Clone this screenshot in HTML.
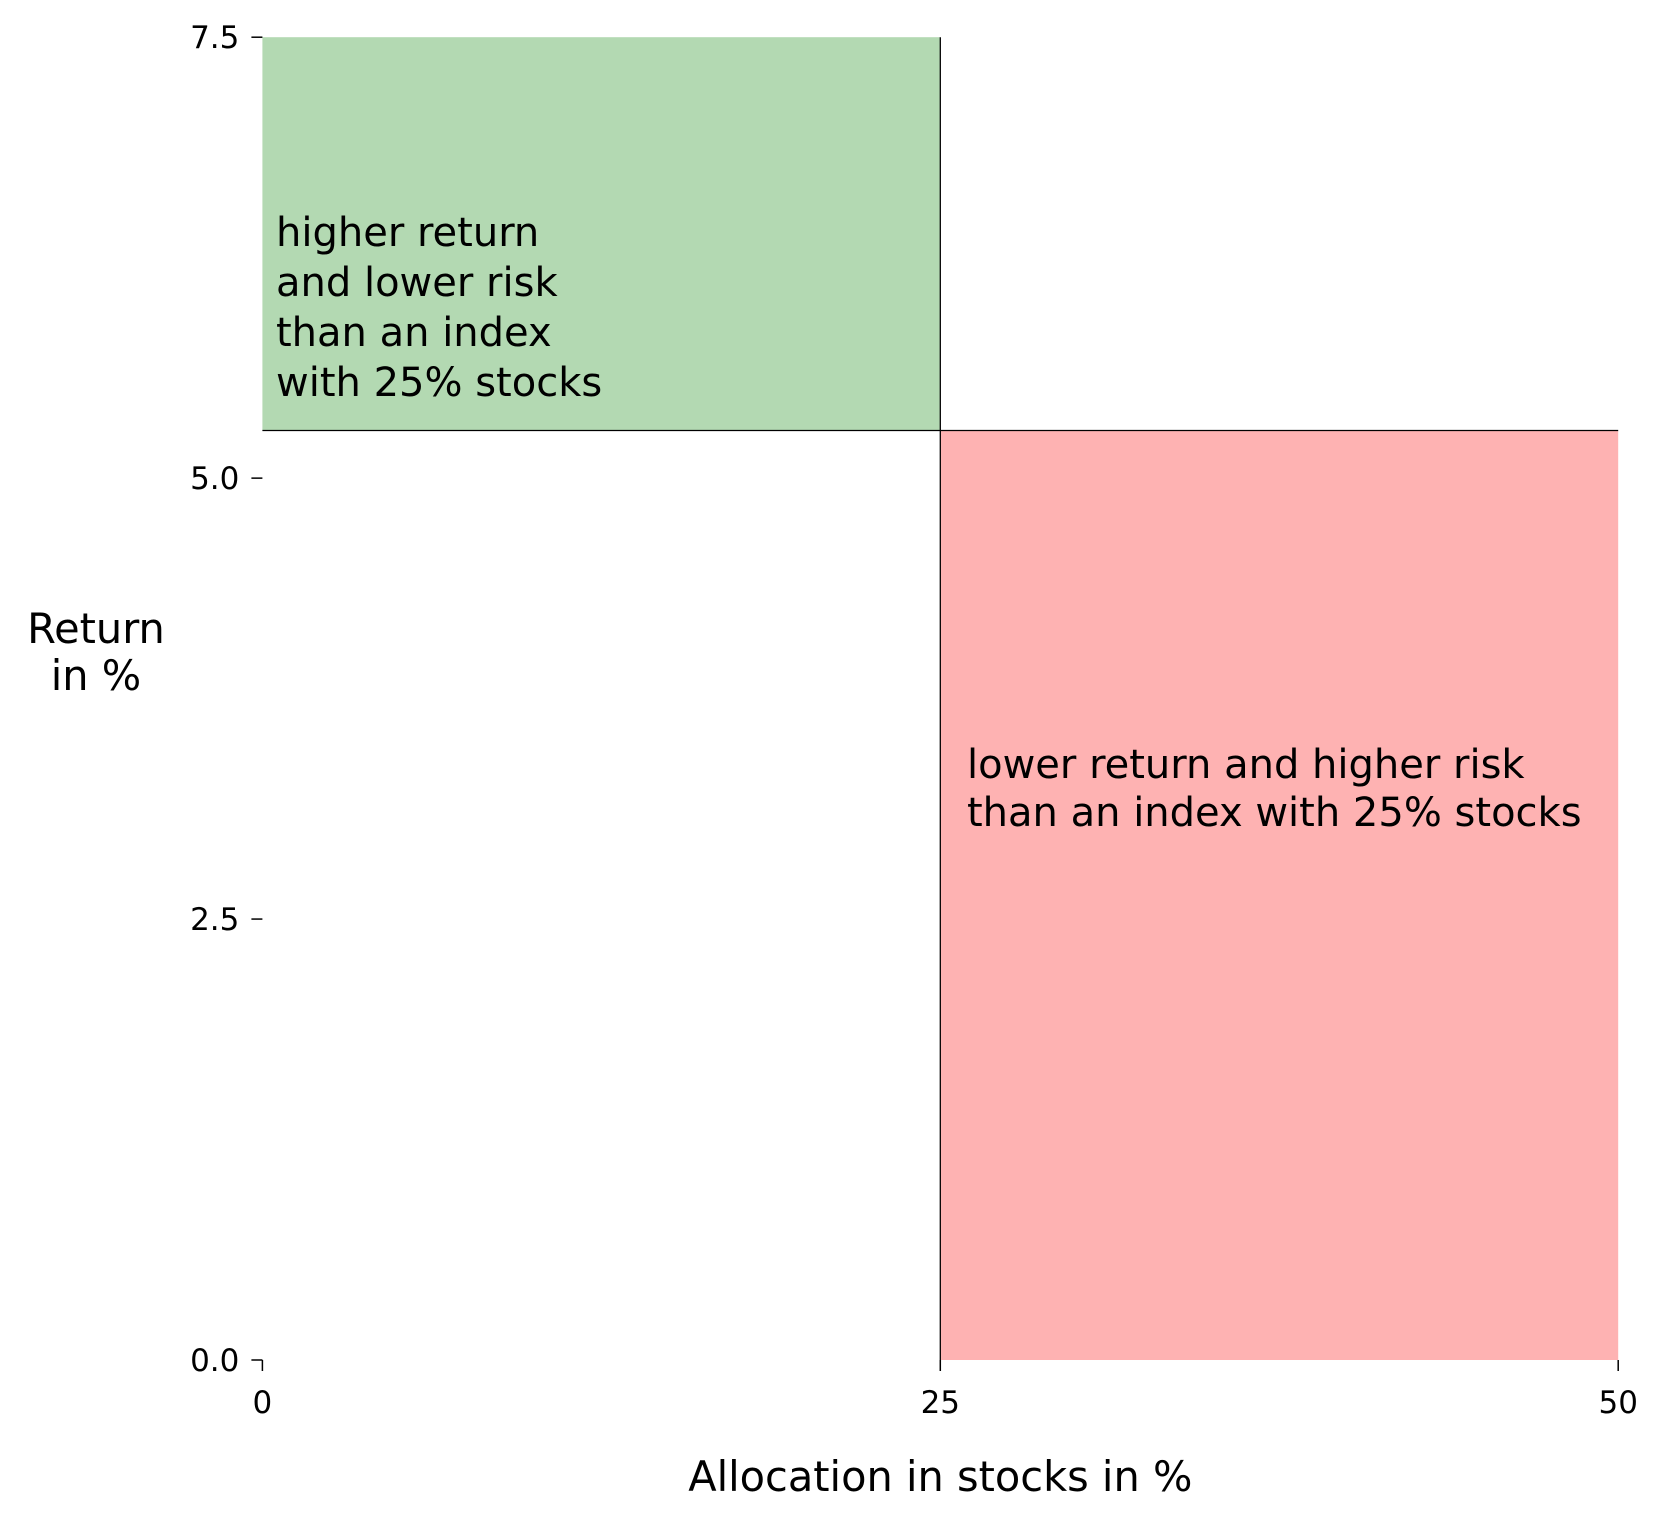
<!DOCTYPE html>
<html><head><meta charset="utf-8"><style>
html,body{margin:0;padding:0;background:#fff}
svg{display:block}
text{font-family:"DejaVu Sans","Liberation Sans",sans-serif;fill:#000}
</style></head><body>
<svg id="chart" width="1665" height="1523" viewBox="0 0 1665 1523" xmlns="http://www.w3.org/2000/svg"></svg>
<script>
const xTicks=[0,25,50];
const xTickLabels=["0","25","50"];
const yTicks=[0,2.5,5.0,7.5];
const yTickLabels=["0.0","2.5","5.0","7.5"];
const indexAllocation=[25];
const indexReturn=[5.27];
const xDomain=[0,50];
const yDomain=[0,7.5];

const L=262.4,R=1618.2,T=37.2,B=1360;
const sx=v=>L+(v-xDomain[0])/(xDomain[1]-xDomain[0])*(R-L);
const sy=v=>B-(v-yDomain[0])/(yDomain[1]-yDomain[0])*(B-T);
const svg=document.getElementById('chart');
const NS='http://www.w3.org/2000/svg';
function mk(tag,attrs){const e=document.createElementNS(NS,tag);for(const k in attrs)e.setAttribute(k,attrs[k]);svg.appendChild(e);return e;}

const ax=indexAllocation[0], ar=indexReturn[0];
let g=mk('rect',{x:sx(xDomain[0]),y:sy(yDomain[1]),width:sx(ax)-sx(xDomain[0]),height:sy(ar)-sy(yDomain[1]),fill:'#b3d9b2'});


let r=mk('rect',{x:sx(ax),y:sy(ar),width:sx(xDomain[1])-sx(ax),height:sy(yDomain[0])-sy(ar),fill:'#feb2b2'});


let vl=mk('line',{x1:sx(ax),x2:sx(ax),y1:sy(yDomain[0]),y2:sy(yDomain[1]),stroke:'#000','stroke-width':1.3});


let hl=mk('line',{x1:sx(xDomain[0]),x2:sx(xDomain[1]),y1:sy(ar),y2:sy(ar),stroke:'#000','stroke-width':1.3});



xTicks.forEach((v,i)=>{
  const t=mk('line',{x1:sx(v),x2:sx(v),y1:B,y2:B+11,stroke:'#000','stroke-width':1.5});
  
  
  const l=mk('text',{x:sx(v),y:B+53,'text-anchor':'middle','font-size':31});
  l.textContent=xTickLabels[i];
  
  
});
yTicks.forEach((v,i)=>{
  const t=mk('line',{x1:L-11,x2:L,y1:sy(v),y2:sy(v),stroke:'#000','stroke-width':1.5});
  
  
  const l=mk('text',{x:L-23,y:sy(v)+11,'text-anchor':'end','font-size':31});
  l.textContent=yTickLabels[i];
  
  
});

function lines(arr,x,y0,dy,name,anchor,fs){
  const t=mk('text',{x:x,y:y0,'font-size':fs,'text-anchor':anchor||'start'});
  
  
  arr.forEach((s,i)=>{const ts=document.createElementNS(NS,'tspan');ts.setAttribute('x',x);ts.setAttribute('y',y0+i*dy);ts.textContent=s;t.appendChild(ts);});
}
lines(["higher return","and lower risk","than an index","with 25% stocks"],276,246,50,'better-annotation','start',40);
lines(["lower return and higher risk","than an index with 25% stocks"],967,778,48,'worse-annotation','start',40);
lines(["Allocation in stocks in %"],sx(25),1491,0,'x-axis-title','middle',41.5);
lines(["Return","in %"],96,643,47,'y-axis-title','middle',41.5);
</script>
</body></html>
